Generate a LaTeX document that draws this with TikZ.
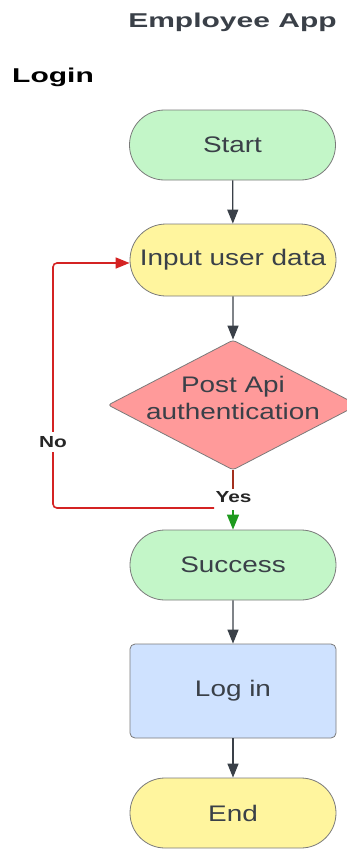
\documentclass[tikz,border=0pt]{standalone}
\usepackage{fontspec}
\setmainfont{Liberation Sans}
\newfontfamily\headfont[FakeStretch=1.5]{Liberation Sans}
\newfontfamily\boxfont[FakeStretch=1.24]{Liberation Sans}
\newfontfamily\tagfont[FakeStretch=1.3]{Liberation Sans}
\usetikzlibrary{arrows.meta,shapes.geometric,shapes.misc}

\definecolor{inkgray}{HTML}{3A4048}
\definecolor{edgegray}{HTML}{7A7A7A}
\definecolor{mint}{HTML}{C3F6C8}
\definecolor{butter}{HTML}{FFF59E}
\definecolor{salmon}{HTML}{FF9A9A}
\definecolor{sky}{HTML}{CFE2FF}
\definecolor{loopred}{HTML}{D42323}
\definecolor{stubred}{HTML}{A3301E}
\definecolor{okgreen}{HTML}{1E9A1E}

\tikzset{
  x=1pt, y=-1pt,
  box/.style={draw=edgegray, line width=0.8pt, text=inkgray,
    font=\boxfont\fontsize{22.5}{27}\selectfont, inner sep=0pt,
    minimum width=206pt},
  pill/.style={box, rounded rectangle, minimum height=70pt},
  flow/.style={draw=inkgray, line width=1.3pt,
    -{Triangle[width=11pt,length=14pt]}},
  tag/.style={font=\tagfont\bfseries\fontsize{16}{18}\selectfont,
    text=black!85, inner sep=1pt},
  head/.style={font=\headfont\bfseries\fontsize{20}{22}\selectfont}
}

\begin{document}
\begin{tikzpicture}
\useasboundingbox (0,0) rectangle (347,855);

% headings
\node[head, text=inkgray] (title) at (232.5,22) {Employee App};
\node[head, text=black] (section) at (53,77) {Login};

% flow steps
\node[pill, fill=mint] (start) at (232.5,145) {Start};
\node[pill, fill=butter, minimum height=72pt] (input) at (233,260) {Input user data};
\node[diamond, draw=edgegray, line width=0.8pt, fill=salmon, inner sep=0pt,
      minimum width=250pt, minimum height=130pt, rounded corners=3pt]
      (auth) at (233,405) {};
\node[box, draw=none, minimum width=0pt, align=center] (authtext) at (233,398)
      {Post Api\\authentication};
\node[pill, fill=mint] (success) at (233,565) {Success};
\node[box, fill=sky, rounded corners=5pt, minimum height=94pt] (login) at (233,691) {Log in};
\node[pill, fill=butter] (end) at (233,813) {End};

% straight connectors
\draw[flow] (start) -- (input);
\draw[flow] (input) -- (auth);
\draw[flow] (success) -- (login);
\draw[flow] (login) -- (end);

% decision outcomes
\coordinate (yesstub) at (233,489);
\coordinate (yesarrow) at (233,510);
\coordinate (nojoin) at (214,508);
\coordinate (nocorner) at (53,508);
\coordinate (nohigh) at (53,263);

\draw[stubred, line width=2pt] (auth.south) -- (yesstub);
\node[tag] (yes) at (233.5,497) {Yes};
\draw[okgreen, line width=1.3pt, -{Triangle[width=12pt,length=15pt]}]
     (yesarrow) -- (success.north);

\draw[loopred, line width=1.6pt, rounded corners=4pt,
      -{Triangle[width=11pt,length=14pt]}]
     (nojoin) -- (nocorner) -- (nohigh) -- (input.west |- nohigh);
\node[tag, fill=white, inner ysep=4pt] (no) at (53,442) {No};
\end{tikzpicture}
\end{document}
